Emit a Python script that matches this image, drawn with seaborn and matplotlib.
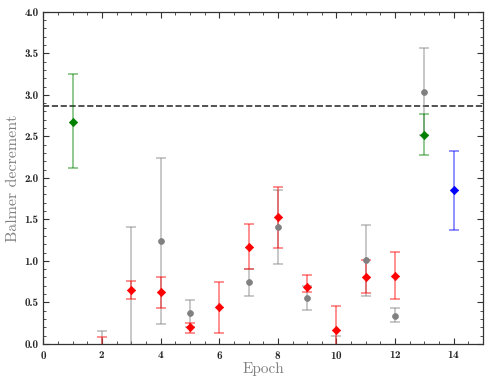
import numpy as np
import pandas as pd
import matplotlib
matplotlib.use('Agg')
import matplotlib.pyplot as plt
import seaborn as sns
from matplotlib.ticker import MultipleLocator

# gray circles
gray_epoch = [2, 3, 4, 5, 7, 8, 9, 10, 11, 12, 13]
gray_val = [-0.3, -0.5, 1.24, 0.37, 0.74, 1.41, 0.55, -0.3, 1.01, 0.34, 3.04]
gray_lo = [-0.5, -1.0, 0.24, 0.20, 0.58, 0.96, 0.41, -0.5, 0.58, 0.26, 2.52]
gray_hi = [0.15, 1.41, 2.24, 0.53, 0.90, 1.85, 0.70, 0.09, 1.43, 0.43, 3.57]

# red diamonds
red_epoch = [2, 3, 4, 5, 6, 7, 8, 9, 10, 11, 12]
red_val = [-0.2, 0.65, 0.62, 0.20, 0.44, 1.17, 1.53, 0.68, 0.17, 0.81, 0.82]
red_lo = [-0.5, 0.54, 0.43, 0.13, 0.13, 0.90, 1.16, 0.63, -0.1, 0.61, 0.54]
red_hi = [0.08, 0.76, 0.80, 0.245, 0.75, 1.44, 1.89, 0.83, 0.46, 1.01, 1.11]

# green diamonds
green_epoch = [1, 13]
green_val = [2.67, 2.52]
green_lo = [2.12, 2.28]
green_hi = [3.25, 2.77]

# blue diamond
blue_epoch = [14]
blue_val = [1.855]
blue_lo = [1.37]
blue_hi = [2.32]

case_b = 2.86

sns.set_style('ticks')
plt.rcParams['axes.formatter.use_mathtext'] = True

fig, ax = plt.subplots(figsize=(4.91, 3.82), dpi=100)

groups = [
    (gray_epoch, gray_val, gray_lo, gray_hi, 'gray', 'o'),
    (red_epoch, red_val, red_lo, red_hi, 'red', 'D'),
    (green_epoch, green_val, green_lo, green_hi, 'green', 'D'),
    (blue_epoch, blue_val, blue_lo, blue_hi, 'blue', 'D'),
]
for ep, v, lo, hi, col, mk in groups:
    v = np.array(v)
    yerr = [v - np.array(lo), np.array(hi) - v]
    ax.errorbar(ep, v, yerr=yerr, fmt='none', ecolor=col, alpha=0.55,
                capsize=3.5, elinewidth=1.1, capthick=1.1)
    df = pd.DataFrame({'epoch': ep, 'val': v})
    sns.scatterplot(data=df, x='epoch', y='val', ax=ax, color=col, marker=mk,
                    s=18, edgecolor=col, linewidth=0.5, zorder=3)

ax.axhline(case_b, color='#333333', ls='--', lw=1.2, zorder=1)

ax.set_xlim(0, 15)
ax.set_ylim(0, 4)
ax.xaxis.set_major_locator(MultipleLocator(2))
ax.xaxis.set_minor_locator(MultipleLocator(0.5))
ax.yaxis.set_major_locator(MultipleLocator(0.5))
ax.yaxis.set_minor_locator(MultipleLocator(0.1))
ax.yaxis.set_major_formatter(matplotlib.ticker.FormatStrFormatter('%.1f'))
ax.tick_params(which='both', direction='in', top=True, right=True, color='#333333')
ax.tick_params(which='major', length=4, width=0.8, labelsize=8)
ax.tick_params(which='minor', length=2, width=0.6)
for lab in ax.get_xticklabels() + ax.get_yticklabels():
    lab.set_fontfamily('cmb10')
for sp in ax.spines.values():
    sp.set_color('#333333')
    sp.set_linewidth(0.9)

ax.set_xlabel('Epoch', fontfamily='cmr10', fontsize=11, color='gray', labelpad=1)
ax.set_ylabel('Balmer decrement', fontfamily='cmr10', fontsize=11.5, color='gray', labelpad=3)

plt.subplots_adjust(left=0.088, right=0.984, top=0.969, bottom=0.1)
plt.savefig('out.png', dpi=100)
